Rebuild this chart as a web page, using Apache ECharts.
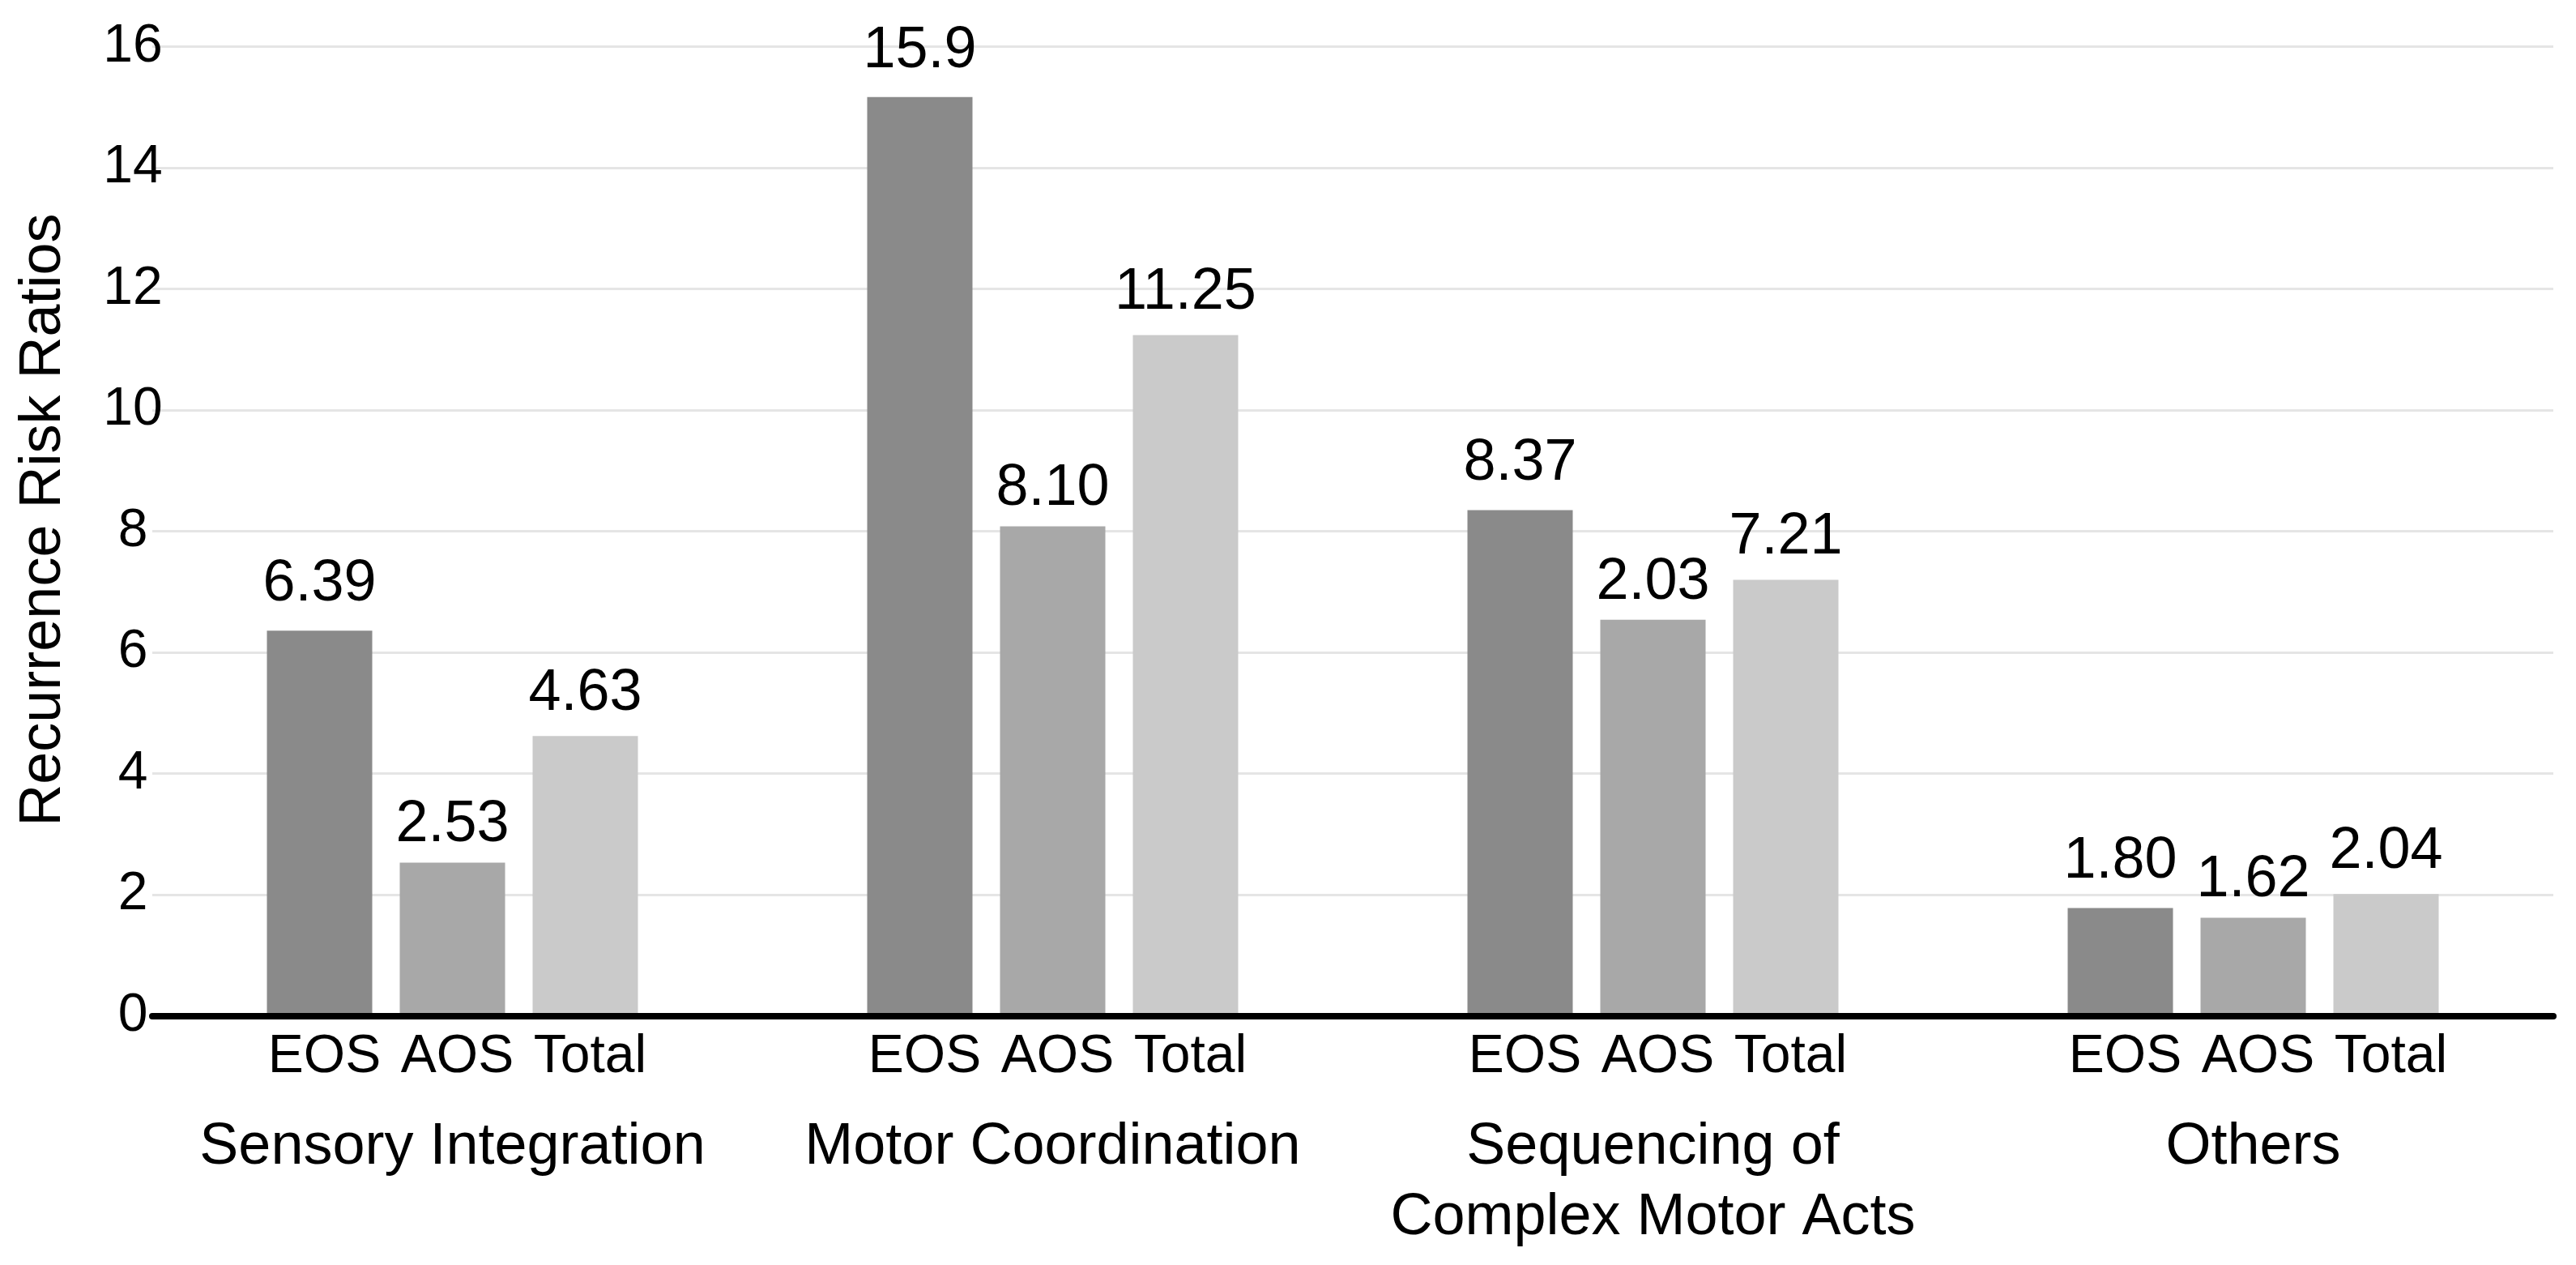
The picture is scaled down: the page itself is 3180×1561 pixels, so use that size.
<!DOCTYPE html>
<html>
<head>
<meta charset="utf-8">
<script src="https://cdn.jsdelivr.net/npm/echarts@6/dist/echarts.min.js"></script>
<style>
html,body{margin:0;padding:0;background:#fff;}
#chart{width:3180px;height:1561px;}
</style>
</head>
<body>
<div id="chart"></div>
<script>
// ---- data ----
const categories = ['Sensory Integration', 'Motor Coordination', 'Sequencing of\nComplex Motor Acts', 'Others'];
const subLabels = ['EOS', 'AOS', 'Total'];
// bar heights as drawn
const eosValues   = [6.36, 15.17, 8.35, 1.78];
const aosValues   = [2.53, 8.08, 6.54, 1.62];
const totalValues = [4.62, 11.24, 7.20, 2.01];
// printed value labels
const eosLabels   = ['6.39', '15.9', '8.37', '1.80'];
const aosLabels   = ['2.53', '8.10', '2.03', '1.62'];
const totalLabels = ['4.63', '11.25', '7.21', '2.04'];
const yTicks = [0, 2, 4, 6, 8, 10, 12, 14, 16];
const yName = 'Recurrence Risk Ratios';

// ---- styles ----
const FONT = "'Liberation Sans', Arial, Helvetica, sans-serif";
const colors = ['#8a8a8a', '#a8a8a8', '#cacaca'];
const BAR_W = 130, BAR_GAP = 34;
const step = BAR_W + BAR_GAP;

function barSeries(name, values, labels, color, dist) {
  return {
    name: name, type: 'bar', data: values,
    barWidth: BAR_W, barGap: (BAR_GAP / BAR_W * 100).toFixed(2) + '%',
    itemStyle: { color: color },
    z: 2,
    label: {
      show: true, position: 'top', distance: dist,
      fontFamily: FONT, fontSize: 72, lineHeight: 72, color: '#000000',
      formatter: p => labels[p.dataIndex]
    }
  };
}
function subLabelSeries(idx) {
  return {
    name: subLabels[idx] + '_axis', type: 'scatter',
    data: categories.map(() => 0),
    symbol: 'rect', symbolSize: 1, clip: false, silent: true,
    itemStyle: { color: '#ffffff', opacity: 1 },
    z: 1,
    label: {
      show: true, position: 'bottom', distance: 18,
      offset: [(idx - 1) * step + 6, 0],
      fontFamily: FONT, fontSize: 66, lineHeight: 66,
      color: '#000000', opacity: 1, textBorderWidth: 0,
      formatter: () => subLabels[idx]
    }
  };
}

const chart = echarts.init(document.getElementById('chart'), null, { renderer: 'canvas' });
chart.setOption({
  backgroundColor: '#ffffff',
  animation: false,
  grid: { left: 188, right: 28, top: 57.7, bottom: 307.5 },
  xAxis: {
    type: 'category', data: categories,
    offset: 4,
    axisLine: { show: true, lineStyle: { color: '#000', width: 8 } },
    axisTick: { show: false },
    axisLabel: { interval: 0, margin: 115, fontFamily: FONT, fontSize: 72, lineHeight: 87, color: '#000' },
    z: 3
  },
  yAxis: {
    type: 'value', min: yTicks[0], max: yTicks[yTicks.length - 1], interval: yTicks[1] - yTicks[0],
    name: yName, nameLocation: 'middle', nameGap: 98,
    nameTextStyle: { fontFamily: FONT, fontSize: 72, color: '#000', padding: [0, 0, 0, 28] },
    axisLine: { show: false }, axisTick: { show: false },
    splitLine: { show: true, lineStyle: { color: '#e5e5e5', width: 3 } },
    axisLabel: { fontFamily: FONT, fontSize: 66, color: '#000', align: 'center', margin: 24 }
  },
  series: [
    barSeries('EOS', eosValues, eosLabels, colors[0], 21),
    barSeries('AOS', aosValues, aosLabels, colors[1], 10),
    barSeries('Total', totalValues, totalLabels, colors[2], 16),
    subLabelSeries(0), subLabelSeries(1), subLabelSeries(2)
  ]
});
</script>
</body>
</html>
